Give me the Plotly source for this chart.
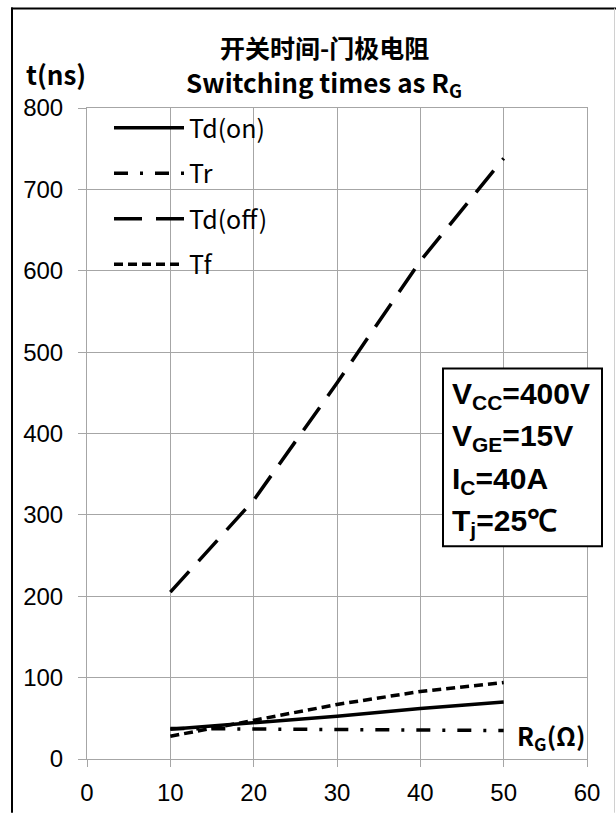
import plotly.graph_objects as go

# ---- data ----
rg = [10, 20, 30, 40, 50]
td_on = [36.5, 44.5, 52.5, 62, 70]
tr = [37.5, 37, 36, 35.5, 35]
td_off = [205, 318, 462, 612, 738]
tf = [28, 47, 67, 83, 94]

series_names = ["Td(on)", "Tr", "Td(off)", "Tf"]
series_values = [td_on, tr, td_off, tf]
series_dash = ["solid", "14px,12px,3px,12px", "28px,14px", "9px,5px"]

x_ticks = [0, 10, 20, 30, 40, 50, 60]
y_ticks = [0, 100, 200, 300, 400, 500, 600, 700, 800]

cond_lines = ["V<sub>CC</sub>=400V", "V<sub>GE</sub>=15V", "I<sub>C</sub>=40A", "T<sub>j</sub>=25℃"]

# ---- layout geometry (pixels) ----
W, H = 616, 818
L, T = 87, 108
RIGHT, BOTTOM = 587, 775
R, B = W - RIGHT, H - BOTTOM
PW, PH = RIGHT - L, BOTTOM - T


def px(xp):
    return (xp - L) / PW


def py(yp):
    return (BOTTOM - yp) / PH


GRID = "#a6a6a6"
CJK = "Noto Sans CJK SC"

fig = go.Figure()
for i, (name, vals, dash) in enumerate(zip(series_names, series_values, series_dash)):
    fig.add_trace(go.Scatter(
        x=rg, y=vals, mode="lines", name=name, legendgroup=f"g{i}",
        line=dict(color="black", width=3.5, dash=dash),
    ))

fig.update_layout(
    width=W, height=H,
    margin=dict(l=L, r=R, t=T, b=B, pad=0),
    paper_bgcolor="white", plot_bgcolor="white",
    showlegend=True,
    legend=dict(
        x=px(109), y=py(105), xanchor="left", yanchor="top",
        font=dict(family=CJK, size=25, color="black"),
        bgcolor="rgba(0,0,0,0)", borderwidth=0,
        itemwidth=70, tracegroupgap=10,
    ),
    xaxis=dict(
        range=[0, 60], tickvals=x_ticks, ticktext=[str(v) for v in x_ticks],
        showgrid=True, gridcolor=GRID, gridwidth=1,
        zeroline=False, showline=True, linecolor=GRID, linewidth=1, mirror=True,
        ticks="outside", ticklen=7, tickcolor=GRID, tickwidth=1,
        ticklabelstandoff=5,
        tickfont=dict(family="Liberation Sans", size=24, color="black"),
    ),
    yaxis=dict(
        range=[0, 800], tickvals=y_ticks, ticktext=[str(v) for v in y_ticks],
        showgrid=True, gridcolor=GRID, gridwidth=1,
        zeroline=False, showline=True, linecolor=GRID, linewidth=1, mirror=True,
        ticks="outside", ticklen=8, tickcolor=GRID, tickwidth=1,
        ticklabelstandoff=10,
        tickfont=dict(family="Liberation Sans", size=24, color="black"),
    ),
)

ann = []
ann.append(dict(text="<b>开关时间-门极电阻</b>", x=px(324), y=py(45), xref="paper", yref="paper",
                xanchor="center", yanchor="middle", showarrow=False,
                font=dict(family=CJK, size=25, color="black")))
ann.append(dict(text="<b>Switching times as R</b><sub><b>G</b></sub>", x=px(324), y=py(82), xref="paper", yref="paper",
                xanchor="center", yanchor="middle", showarrow=False,
                font=dict(family=CJK, size=26, color="black")))
ann.append(dict(text="<b>t(ns)</b>", x=px(56), y=py(73), xref="paper", yref="paper",
                xanchor="center", yanchor="middle", showarrow=False,
                font=dict(family=CJK, size=26, color="black")))
ann.append(dict(text="<b>R<sub>G</sub>(Ω)</b>", x=px(551), y=py(752), xref="paper", yref="paper",
                xanchor="center", yanchor="middle", showarrow=False,
                font=dict(family=CJK, size=25, color="black")))
for line, yc in zip(cond_lines, [403, 446, 490, 533]):
    ann.append(dict(text="<b>" + line + "</b>", x=px(450), y=py(yc), xref="paper", yref="paper",
                    xanchor="left", yanchor="middle", showarrow=False,
                    font=dict(family="Liberation Sans", size=30, color="black")))
fig.update_layout(annotations=ann)

shapes = [
    dict(type="rect", xref="paper", yref="paper", x0=px(443), x1=px(602), y0=py(557), y1=py(375),
         line=dict(color="black", width=2), fillcolor="white", layer="above"),
    dict(type="line", xref="paper", yref="paper", x0=px(12), x1=px(12), y0=py(5), y1=py(830),
         line=dict(color="black", width=2)),
    dict(type="line", xref="paper", yref="paper", x0=px(11), x1=px(630), y0=py(6), y1=py(6),
         line=dict(color="black", width=2)),
    dict(type="line", xref="paper", yref="paper", x0=px(614.5), x1=px(614.5), y0=py(6), y1=py(830),
         line=dict(color="#d0d0d0", width=1)),
]
fig.update_layout(shapes=shapes)

fig.write_html("out.html", config={"displayModeBar": False},
               post_script="document.body.style.margin='0';")
